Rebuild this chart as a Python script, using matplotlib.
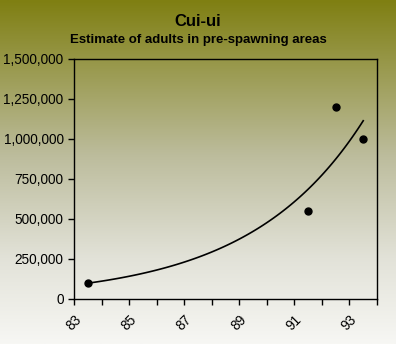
import matplotlib.pyplot as plt
import numpy as np
from matplotlib.colors import LinearSegmentedColormap
from matplotlib.ticker import FuncFormatter, MultipleLocator

years = [83.5, 91.5, 92.5, 93.5]
adults = [100000, 550000, 1200000, 1000000]
x_labels = ["83", "85", "87", "89", "91", "93"]

plt.rcParams["font.family"] = ["Liberation Sans", "DejaVu Sans"]

fig = plt.figure(figsize=(3.96, 3.44), dpi=100)

# olive-to-white background gradient over the whole figure
bg = fig.add_axes([0, 0, 1, 1], zorder=-1)
cmap = LinearSegmentedColormap.from_list(
    "bg", [(0.0, "#7f7f12"), (0.45, "#bcbc9c"), (0.75, "#e2e2d8"), (1.0, "#f7f7f4")])
bg.imshow(np.linspace(0, 1, 256)[:, None], aspect="auto", cmap=cmap,
          extent=[0, 1, 0, 1])
bg.axis("off")

ax = fig.add_axes([74 / 396, 45 / 344, 303 / 396, 240 / 344])
ax.patch.set_alpha(0)

ax.plot(years, adults, "o", color="black", ms=5)

# exponential trendline fitted to the points
x = np.array(years)
b, ln_a = np.polyfit(x, np.log(adults), 1)
xs = np.linspace(x.min(), x.max(), 100)
ax.plot(xs, np.exp(ln_a + b * xs), color="black", lw=1.2)

ax.set_xlim(83, 94)
ax.set_ylim(0, 1500000)
ax.set_xticks([int(l) for l in x_labels])
ax.set_xticks(np.arange(83, 95), minor=True)
ax.set_xticklabels(x_labels, rotation=45, ha="right", rotation_mode="anchor")
ax.yaxis.set_major_locator(MultipleLocator(250000))
ax.yaxis.set_major_formatter(FuncFormatter(lambda v, p: f"{int(v):,}"))
ax.tick_params(axis="both", which="both", direction="out", length=4,
               width=1, labelsize=9.8, colors="black")
ax.tick_params(axis="x", pad=6)
for s in ax.spines.values():
    s.set_linewidth(1)

fig.text(0.5, 1 - 21 / 344, "Cui-ui", ha="center", va="center",
         fontsize=12, fontweight="bold")
fig.text(0.5, 1 - 40 / 344, "Estimate of adults in pre-spawning areas",
         ha="center", va="center", fontsize=9.5, fontweight="bold")

fig.savefig("out.png", dpi=100)
